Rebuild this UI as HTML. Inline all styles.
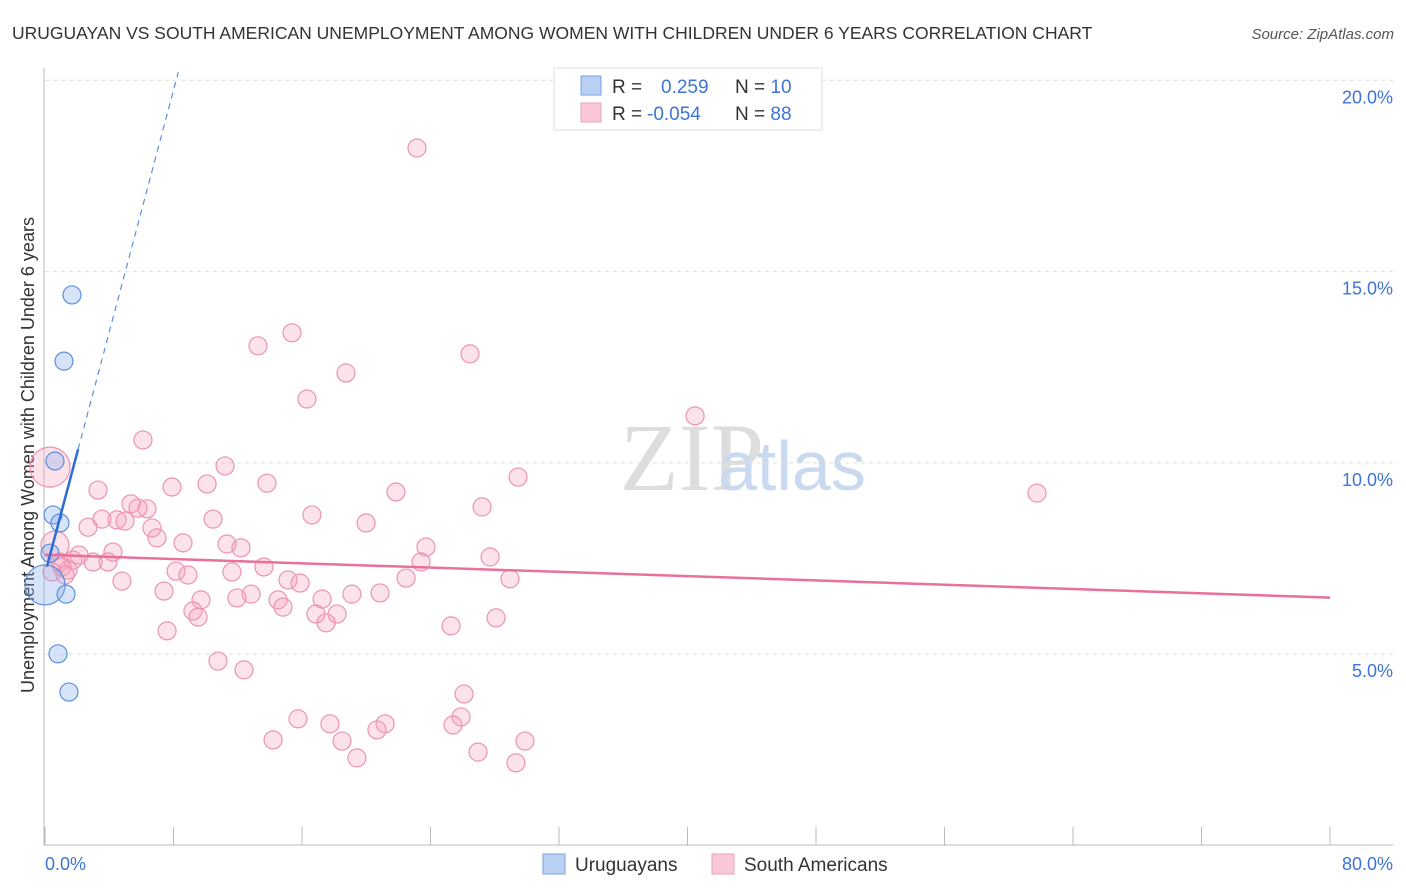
<!DOCTYPE html>
<html><head><meta charset="utf-8"><style>
body{margin:0;background:#fff;font-family:"Liberation Sans",sans-serif;}
</style></head><body>
<svg id="c" width="1406" height="892" style="display:block">
<text x="12" y="39" font-size="17.5" fill="#333">URUGUAYAN VS SOUTH AMERICAN UNEMPLOYMENT AMONG WOMEN WITH CHILDREN UNDER 6 YEARS CORRELATION CHART</text>
<text x="1394" y="39" font-size="15" font-style="italic" fill="#555" text-anchor="end">Source: ZipAtlas.com</text>
<text x="620" y="490" font-size="96" font-family="Liberation Serif,serif" fill="#ddd">ZIP</text>
<text x="718" y="490" font-size="70" fill="#c9d9f0">atlas</text>
<text transform="translate(34,455) rotate(-90)" font-size="18" fill="#333" text-anchor="middle">Unemployment Among Women with Children Under 6 years</text>
<g id="grid"></g><g id="pts"></g><g id="lines"></g>
<g>
<rect x="554" y="68" width="268" height="62" fill="#fff" stroke="#ddd"/>
<rect x="581" y="76" width="20" height="19" fill="#b9d0f2" stroke="#7aa2e0"/>
<rect x="581" y="103" width="20" height="19" fill="#f9c8d8" stroke="#eaa0bb"/>
<text x="612" y="93" font-size="19" fill="#333">R = <tspan x="661" fill="#3d74d6">0.259</tspan><tspan x="735" fill="#333">N = </tspan><tspan fill="#3d74d6">10</tspan></text>
<text x="612" y="120" font-size="19" fill="#333">R = <tspan x="647" fill="#3d74d6">-0.054</tspan><tspan x="735" fill="#333">N = </tspan><tspan fill="#3d74d6">88</tspan></text>
</g>
<g>
<rect x="543" y="854" width="22" height="20" fill="#b9d0f2" stroke="#7aa2e0"/>
<text x="575" y="871" font-size="19" fill="#333">Uruguayans</text>
<rect x="712" y="854" width="22" height="20" fill="#f9c8d8" stroke="#eaa0bb"/>
<text x="744" y="871" font-size="19" fill="#333">South Americans</text>
</g>
</svg>
<script>
const xTicks=[0,8,16,24,32,40,48,56,64,72,80];
const yTicks=[5,10,15,20];
const blueX=[1.68,1.18,0.62,0.50,0.93,0.31,0,1.31,0.81,1.49];
const blueY=[14.39,12.66,10.05,8.64,8.43,7.64,6.81,6.57,5.01,4.01];
const blueR=[9,9,9,9,9,9,20,9,9,9];
const pinkX=[23.16,15.38,13.26,26.46,18.74,16.31,40.47,6.10,11.21,29.45,3.30,7.91,10.09,13.82,21.85,61.76,27.21,5.35,6.35,5.79,16.62,10.46,3.55,4.48,4.98,19.99,6.66,6.97,2.68,8.59,11.33,12.20,23.72,4.23,2.12,27.71,1.74,3.92,2.99,23.41,0.93,13.63,8.16,11.64,1.43,1.06,8.90,22.48,15.13,28.95,4.79,15.88,7.41,19.11,20.86,12.83,9.71,11.95,14.51,17.25,9.21,14.82,9.53,16.87,18.18,28.08,17.50,7.60,25.28,10.77,12.39,26.09,15.75,25.90,17.74,21.17,20.67,25.40,14.20,18.49,29.88,19.42,26.96,29.32,0.31,0.62,1.25,0.44];
const pinkY=[18.23,13.40,13.06,12.85,12.35,11.67,11.23,10.60,9.92,9.63,9.29,9.37,9.45,9.47,9.24,9.21,8.85,8.93,8.80,8.82,8.64,8.53,8.53,8.51,8.48,8.43,8.30,8.04,8.32,7.91,7.88,7.78,7.80,7.67,7.59,7.54,7.46,7.41,7.41,7.41,7.41,7.28,7.17,7.15,7.20,7.28,7.07,6.99,6.94,6.97,6.91,6.86,6.65,6.57,6.60,6.57,6.42,6.47,6.42,6.44,6.13,6.23,5.97,6.05,6.05,5.95,5.82,5.61,5.74,4.82,4.59,3.96,3.31,3.36,3.18,3.18,3.02,3.15,2.76,2.73,2.73,2.29,2.44,2.16,9.89,7.85,7.07,7.15];
const pinkR=pinkX.map((v,i)=>i==84?20:(i==85?14:9));
const pinkTrend=[7.6,6.48];
const blueTrend=[7.1,1.58];
const X=v=>45+v/80*1285, Y=v=>845.5-v/5*191.3;
const NS="http://www.w3.org/2000/svg";
function mk(t,a,p){const e=document.createElementNS(NS,t);for(const k in a)e.setAttribute(k,a[k]);p.appendChild(e);return e;}
const g=document.getElementById('grid'),svg=document.getElementById('c');
yTicks.forEach(v=>{
 const l=mk('line',{x1:45,x2:1393,y1:Y(v),y2:Y(v),stroke:'#ddd','stroke-dasharray':'4,4'},g);
 
 
 const t=mk('text',{x:1393,y:Y(v)+23,'font-size':18,fill:'#3d74d6','text-anchor':'end'},g);
 
 
 t.textContent=v.toFixed(1)+'%';
});
mk('line',{x1:44,x2:44,y1:68,y2:845,stroke:'#bbb'},g);
mk('line',{x1:44,x2:1393,y1:845,y2:845,stroke:'#bbb'},g);
xTicks.forEach(v=>{
 const l=mk('line',{x1:X(v),x2:X(v),y1:827,y2:845,stroke:'#bbb'},g);
 
 
});
[[0,'start',45],[80,'end',1393]].forEach(([v,a,x])=>{
 const t=mk('text',{x:x,y:870,'font-size':18,fill:'#3d74d6','text-anchor':a},g);
 
 
 t.textContent=v.toFixed(1)+'%';
});
const P=document.getElementById('pts');
pinkX.forEach((v,i)=>{
 const c=mk('circle',{cx:X(v),cy:Y(pinkY[i]),r:pinkR[i],fill:'rgba(244,160,190,0.3)',stroke:'#ec93b3','stroke-width':1.2},P);
 
 
});
blueX.forEach((v,i)=>{
 const c=mk('circle',{cx:X(v),cy:Y(blueY[i]),r:blueR[i],fill:'rgba(140,175,235,0.35)',stroke:'#5b8fdc','stroke-width':1.2},P);
 
 
});
const L=document.getElementById('lines');
const pl=mk('line',{x1:X(0),y1:Y(pinkTrend[0]),x2:X(80),y2:Y(pinkTrend[1]),stroke:'#e8709a','stroke-width':2.5},L);


const bf=v=>blueTrend[0]+blueTrend[1]*v;
const bl=mk('line',{x1:X(0.12),y1:Y(bf(0.12)),x2:X(2.06),y2:Y(bf(2.06)),stroke:'#2f6bd6','stroke-width':2.5},L);


const bd=mk('line',{x1:X(2.06),y1:Y(bf(2.06)),x2:X(8.3),y2:Y(bf(8.3)),stroke:'#5b8fdc','stroke-width':1.2,'stroke-dasharray':'6,5'},L);


</script>
</body></html>
